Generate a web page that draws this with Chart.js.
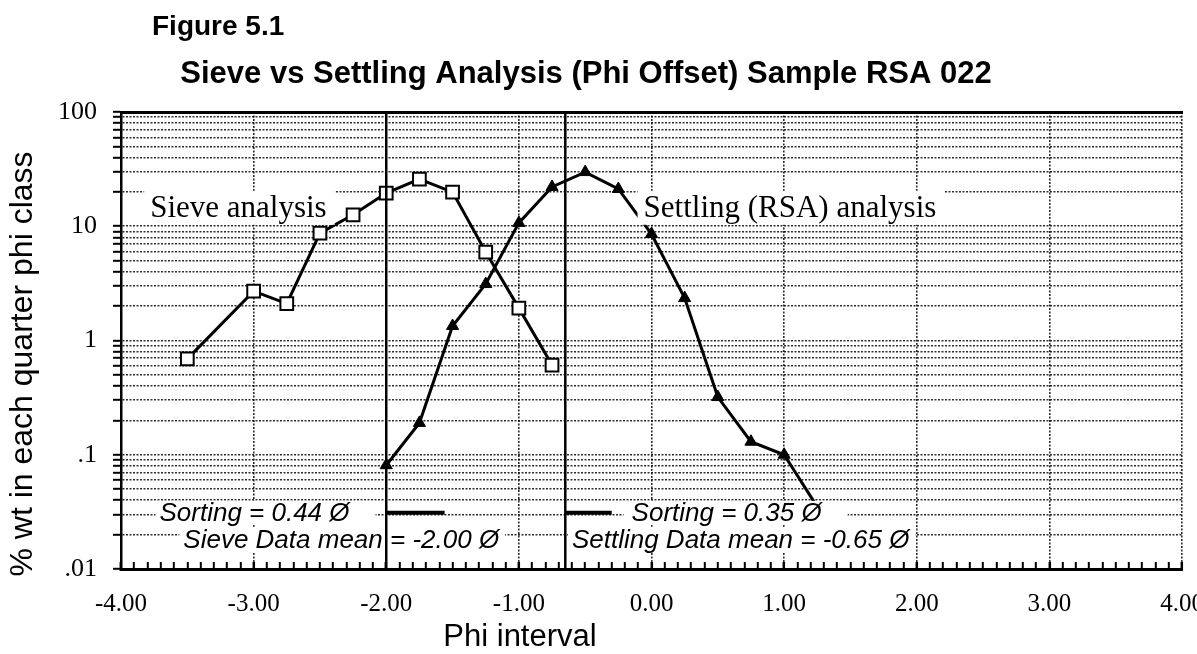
<!DOCTYPE html>
<html>
<head>
<meta charset="utf-8">
<script src="https://cdn.jsdelivr.net/npm/chart.js@4.4.0/dist/chart.umd.min.js"></script>
<style>
  html, body { margin: 0; padding: 0; background: #fff; }
  #wrap { width: 1197px; height: 654px; }
</style>
</head>
<body>
<div id="wrap"><canvas id="sieveChart" width="1197" height="654"></canvas></div>
<script>
// quarter phi classes and % wt
const sievePhi = [-3.5, -3.0, -2.75, -2.5, -2.25, -2.0, -1.75, -1.5, -1.25, -1.0, -0.75];
const sieveWt = [0.69, 2.7, 2.1, 8.7, 12.6, 19.5, 25.9, 19.9, 5.95, 1.92, 0.61];

const settlingPhi = [-2.0, -1.75, -1.5, -1.25, -1.0, -0.75, -0.5, -0.25, 0.0, 0.25, 0.5, 0.75, 1.0, 1.25];
const settlingWt = [0.081, 0.19, 1.34, 3.12, 10.7, 22.1, 29.8, 21.2, 8.55, 2.35, 0.32, 0.13, 0.10, 0.035];

// statistics shown on the figure
const sieveMean = -2.00;
const sieveSorting = 0.44;
const settlingMean = -0.65;
const settlingSorting = 0.35;
const sortingLevel = 0.031;

// axes
const xMin = -4, xMax = 4;
const yDecades = [0.01, 0.1, 1, 10, 100];
const yDecadeLabels = [".01", ".1", "1", "10", "100"];

const SERIF = '"Liberation Serif", "Times New Roman", serif';
const SANS = '"Liberation Sans", Arial, Helvetica, sans-serif';
const GRID = "rgba(0,0,0,0.82)";

// text boxes (anchored in data units)
const notes = [
  { text: "Sieve analysis", x: -3.78, y: 14.5, font: "31px " + SERIF, padL: 6, padR: 8, h: 34 },
  { text: "Settling (RSA) analysis", x: -0.06, y: 14.5, font: "31px " + SERIF, padL: 6, padR: 8, h: 34 },
  { text: "Sorting = 0.44 Ø", x: -3.71, y: 0.031, font: "italic 26px " + SANS, padL: 4, padR: 26, h: 24 },
  { text: "Sieve Data mean = -2.00 Ø", x: -3.53, y: 0.018, font: "italic 26px " + SANS, padL: 4, padR: 6, h: 26 },
  { text: "Sorting = 0.35 Ø", x: -0.15, y: 0.031, font: "italic 26px " + SANS, padL: 8, padR: 26, h: 24 },
  { text: "Settling Data mean = -0.65 Ø", x: -0.6, y: 0.018, font: "italic 26px " + SANS, padL: 4, padR: 6, h: 26 },
];

const yTickValues = [];
for (let i = 0; i < yDecades.length - 1; i++) {
  for (let m = 1; m <= 9; m++) yTickValues.push(yDecades[i] * m);
}
yTickValues.push(yDecades[yDecades.length - 1]);

const isWhole = v => Math.abs(v - Math.round(v)) < 1e-6;

const figureText = {
  id: "figureText",
  afterDatasetDraw(chart, args) {
    // boxes go on top of the two curves, under the mean / sorting lines
    if (args.index !== 0) return;
    const { ctx, scales: { x, y } } = chart;
    notes.forEach(n => {
      ctx.save();
      ctx.font = n.font;
      const w = ctx.measureText(n.text).width;
      const px = x.getPixelForValue(n.x);
      const py = y.getPixelForValue(n.y);
      ctx.fillStyle = "#fff";
      ctx.fillRect(px - n.padL, py - n.h / 2, w + n.padL + n.padR, n.h);
      ctx.fillStyle = "#000";
      ctx.textBaseline = "middle";
      ctx.fillText(n.text, px, py + 1);
      ctx.restore();
    });
  },
  afterDraw(chart) {
    const ctx = chart.ctx;
    ctx.save();
    ctx.fillStyle = "#000";
    ctx.textBaseline = "alphabetic";

    ctx.font = "bold 28px " + SANS;
    ctx.textAlign = "left";
    ctx.fillText("Figure 5.1", 152, 35);

    ctx.font = "bold 31px " + SANS;
    ctx.textAlign = "center";
    ctx.fillText("Sieve vs Settling Analysis (Phi Offset) Sample RSA 022", 586, 83);

    ctx.font = "31px " + SANS;
    ctx.fillText("Phi interval", 520, 646);

    ctx.font = "32px " + SANS;
    ctx.translate(32, 364);
    ctx.rotate(-Math.PI / 2);
    ctx.fillText("% wt in each quarter phi class", 0, 0);
    ctx.restore();
  }
};

const lineStyle = { showLine: true, borderColor: "#000", borderWidth: 3, tension: 0, order: 3 };
const refStyle = { showLine: true, borderColor: "#000", pointRadius: 0, order: 1 };

new Chart(document.getElementById("sieveChart"), {
  type: "scatter",
  data: {
    datasets: [
      {
        ...lineStyle,
        label: "Sieve analysis",
        data: sievePhi.map((p, i) => ({ x: p, y: sieveWt[i] })),
        pointStyle: "rect",
        pointRadius: 9,
        pointBorderWidth: 2,
        pointBackgroundColor: "#fff",
        pointBorderColor: "#000",
      },
      {
        ...lineStyle,
        label: "Settling (RSA) analysis",
        data: settlingPhi.map((p, i) => ({ x: p, y: settlingWt[i] })),
        pointStyle: "triangle",
        pointRadius: settlingPhi.map((p, i) => (i === settlingPhi.length - 1 ? 0 : 7)),
        pointBackgroundColor: "#000",
        pointBorderColor: "#000",
        pointBorderWidth: 1,
      },
      { ...refStyle, borderWidth: 2.5, data: [{ x: sieveMean, y: yDecades[0] }, { x: sieveMean, y: yDecades[4] }] },
      { ...refStyle, borderWidth: 2.5, data: [{ x: settlingMean, y: yDecades[0] }, { x: settlingMean, y: yDecades[4] }] },
      { ...refStyle, borderWidth: 4, data: [{ x: sieveMean, y: sortingLevel }, { x: sieveMean + sieveSorting, y: sortingLevel }] },
      { ...refStyle, borderWidth: 4, data: [{ x: settlingMean, y: sortingLevel }, { x: settlingMean + settlingSorting, y: sortingLevel }] },
    ],
  },
  options: {
    responsive: false,
    animation: false,
    layout: { padding: { left: 0, right: 15, top: 112, bottom: 0 } },
    plugins: { legend: { display: false }, tooltip: { enabled: false }, title: { display: false } },
    scales: {
      x: {
        type: "linear",
        min: xMin,
        max: xMax,
        afterFit(scale) { scale.height = 85; scale.paddingLeft = 0; scale.paddingRight = 0; },
        ticks: {
          stepSize: 0.1,
          autoSkip: false,
          maxRotation: 0,
          padding: 27,
          color: "#000",
          font: { family: SERIF, size: 25 },
          callback: v => (isWhole(v) ? Number(v).toFixed(2) : ""),
        },
        grid: {
          color: c => (c.tick && isWhole(c.tick.value) ? GRID : "rgba(0,0,0,0)"),
          lineWidth: 1.6,
          tickColor: "#000",
          tickLength: -7,
          tickWidth: c => (c.tick && isWhole(c.tick.value) ? 2.5 : 2),
        },
        border: { display: true, color: "#000", width: 3, dash: [2, 1.5] },
      },
      xTop: {
        type: "linear",
        position: "top",
        min: xMin,
        max: xMax,
        ticks: { display: false },
        grid: { display: false, drawTicks: false },
        border: { display: true, color: "#000", width: 3 },
      },
      y: {
        type: "logarithmic",
        min: yDecades[0],
        max: yDecades[yDecades.length - 1],
        afterFit(scale) { scale.width = 121; },
        afterBuildTicks(scale) { scale.ticks = yTickValues.map(v => ({ value: v })); },
        ticks: {
          autoSkip: false,
          padding: 16,
          color: "#000",
          font: { family: SERIF, size: 26 },
          callback: v => {
            const i = yDecades.findIndex(d => Math.abs(v - d) / d < 1e-6);
            return i >= 0 ? yDecadeLabels[i] : "";
          },
        },
        grid: {
          color: GRID,
          lineWidth: 1.6,
          tickColor: "#000",
          tickLength: 8,
          tickWidth: 2,
        },
        border: { display: true, color: "#000", width: 2.5, dash: [2, 1.5] },
      },
    },
  },
  plugins: [figureText],
});
</script>
</body>
</html>
